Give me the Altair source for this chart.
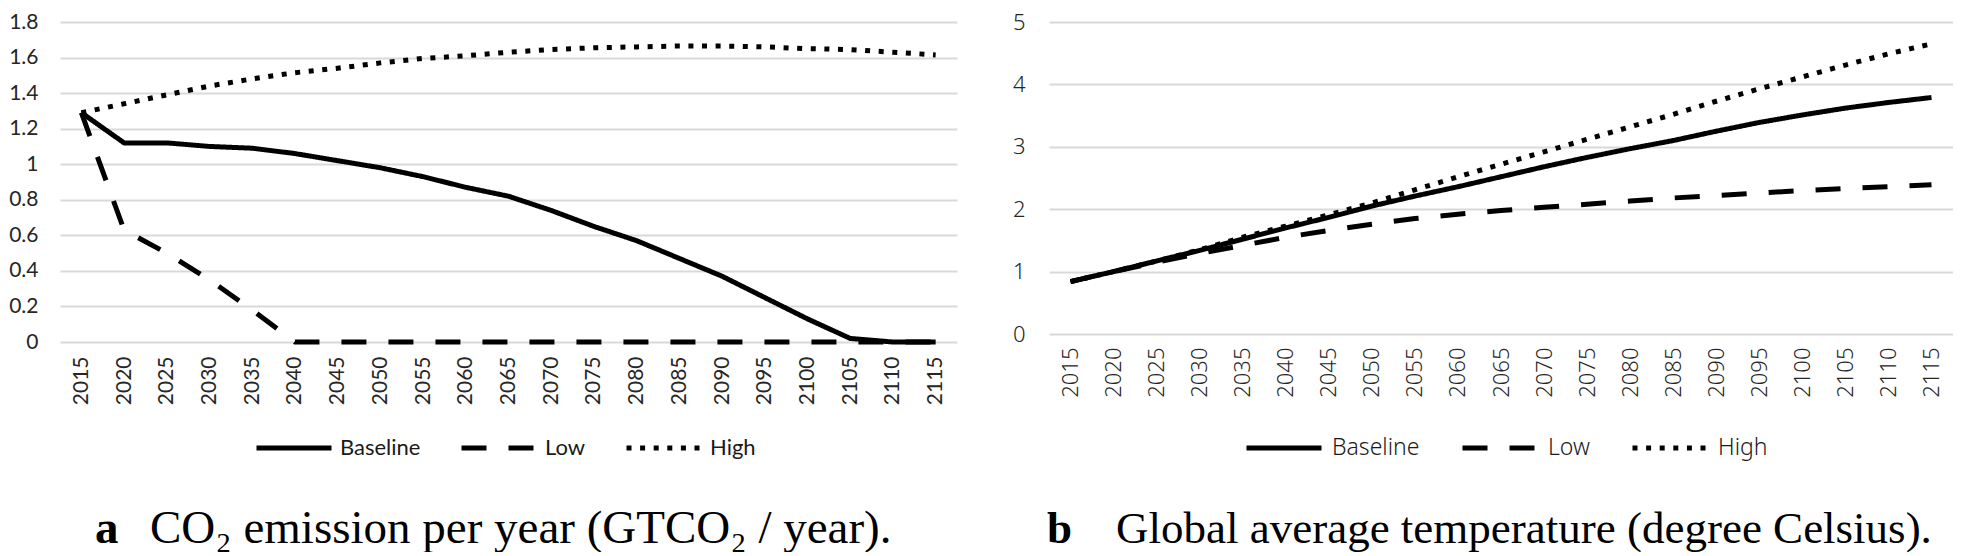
import altair as alt
import pandas as pd

years = ["2015", "2020", "2025", "2030", "2035", "2040", "2045", "2050", "2055", "2060", "2065",
         "2070", "2075", "2080", "2085", "2090", "2095", "2100", "2105", "2110", "2115"]
series_names = ["Baseline", "Low", "High"]

co2_baseline = [1.29, 1.12, 1.12, 1.10, 1.09, 1.06, 1.02, 0.98, 0.93, 0.87, 0.82,
                0.74, 0.65, 0.57, 0.47, 0.37, 0.25, 0.13, 0.02, 0.0, 0.0]
co2_low = [1.29, 0.63, 0.50, 0.35, 0.18, 0.0, 0.0, 0.0, 0.0, 0.0, 0.0,
           0.0, 0.0, 0.0, 0.0, 0.0, 0.0, 0.0, 0.0, 0.0, 0.0]
co2_high = [1.29, 1.34, 1.39, 1.44, 1.48, 1.515, 1.54, 1.57, 1.595, 1.61, 1.63,
            1.645, 1.655, 1.66, 1.665, 1.665, 1.66, 1.65, 1.645, 1.63, 1.615]

temp_baseline = [0.84, 1.0, 1.17, 1.34, 1.52, 1.70, 1.87, 2.05, 2.21, 2.36, 2.52,
                 2.68, 2.83, 2.97, 3.10, 3.25, 3.39, 3.51, 3.62, 3.71, 3.79]
temp_low = [0.84, 1.0, 1.15, 1.29, 1.42, 1.55, 1.66, 1.76, 1.85, 1.92, 1.98,
            2.03, 2.08, 2.13, 2.18, 2.22, 2.26, 2.30, 2.33, 2.36, 2.39]
temp_high = [0.84, 1.0, 1.17, 1.35, 1.55, 1.73, 1.91, 2.10, 2.31, 2.52, 2.72,
             2.92, 3.12, 3.32, 3.52, 3.73, 3.93, 4.12, 4.31, 4.49, 4.65]

co2_ticks = [0, 0.2, 0.4, 0.6, 0.8, 1.0, 1.2, 1.4, 1.6, 1.8]
temp_ticks = [0, 1, 2, 3, 4, 5]

caption_a_label = ["a"]
caption_a_text = ["CO\u2082 emission per year (GTCO\u2082 / year)."]
caption_b_label = ["b"]
caption_b_text = ["Global average temperature (degree Celsius)."]


def to_long(b, l, h):
    rows = []
    for name, vals in zip(series_names, [b, l, h]):
        for yr, v in zip(years, vals):
            rows.append({"year": yr, "series": name, "value": v})
    return pd.DataFrame(rows)


def panel(df, ticks, domain, w, h, fmt, font, weight, tick_size, xlab_pad, ylab_pad,
          leg_font_size, leg_x, leg_y, leg_offset, leg_colpad,
          cap_label, cap_text, cap_label_x, cap_text_x, cap_y, cap_size):
    dash = alt.StrokeDash(
        "series:N",
        scale=alt.Scale(domain=series_names, range=[[1, 0], [25, 22], [5, 8.6]]),
        legend=alt.Legend(
            title=None, orient="none", legendX=leg_x, legendY=leg_y, direction="horizontal",
            symbolType="stroke", symbolSize=5625, symbolStrokeWidth=5,
            symbolStrokeColor="black", labelFont=font, labelFontWeight=weight,
            labelFontSize=leg_font_size, labelColor="#1a1a1a", labelOffset=leg_offset,
            columnPadding=leg_colpad, padding=0,
        ),
    )
    lines = alt.Chart(df).mark_line(color="black", strokeWidth=5, strokeJoin="round").encode(
        x=alt.X("year:O", sort=years, scale=alt.Scale(type="point", padding=0.5),
                axis=alt.Axis(title=None, labelAngle=270, labelFont=font, labelFontWeight=weight,
                              labelFontSize=tick_size, labelColor="#262626", labelPadding=xlab_pad,
                              ticks=False, domain=False, grid=False)),
        y=alt.Y("value:Q", scale=alt.Scale(domain=domain, nice=False, zero=True),
                axis=alt.Axis(title=None, values=ticks, format=fmt, labelFont=font,
                              labelFontWeight=weight, labelFontSize=tick_size,
                              labelColor="#262626", labelPadding=ylab_pad, ticks=False,
                              domain=False, grid=True, gridColor="#d9d9d9", gridWidth=2)),
        strokeDash=dash,
    )
    lab = alt.Chart(pd.DataFrame({"t": cap_label})).mark_text(
        font="Liberation Serif", fontSize=cap_size, fontWeight="bold", align="left",
        baseline="alphabetic", color="black"
    ).encode(x=alt.value(cap_label_x), y=alt.value(cap_y), text="t:N")
    txt = alt.Chart(pd.DataFrame({"t": cap_text})).mark_text(
        font="Liberation Serif", fontSize=cap_size, align="left", baseline="alphabetic",
        color="black"
    ).encode(x=alt.value(cap_text_x), y=alt.value(cap_y), text="t:N")
    return alt.layer(lines, lab, txt).properties(width=w, height=h)


left = panel(to_long(co2_baseline, co2_low, co2_high), co2_ticks, [0, 1.8], 897, 320, ".1~f",
             "Lato", "normal", 21, 14, 22, 22, 194, 386, 6, 30,
             caption_a_label, caption_a_text, 35, 90, 521, 47)
right = panel(to_long(temp_baseline, temp_low, temp_high), temp_ticks, [0, 5], 904, 312, "d",
              "Noto Sans", 300, 22, 13, 24, 23, 195, 386, 8, 32,
              caption_b_label, caption_b_text, -2, 67, 521, 45)

chart = (
    alt.hconcat(left, right, spacing=55)
    .resolve_scale(strokeDash="independent")
    .resolve_legend(strokeDash="independent")
    .properties(padding={"left": 0, "top": 3, "right": 0, "bottom": 0})
    .configure_view(strokeWidth=0)
)

chart.save("out.html", embed_options={"renderer": "svg", "actions": False})
